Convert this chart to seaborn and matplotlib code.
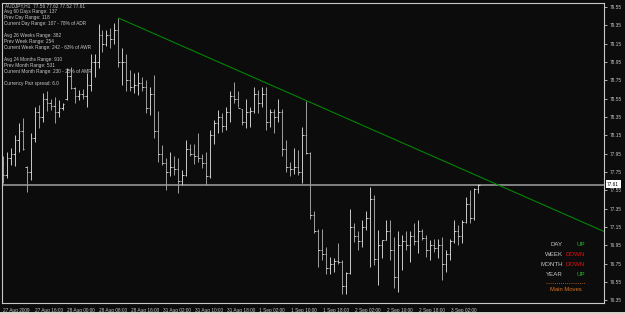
import matplotlib
matplotlib.use("Agg")
import matplotlib.pyplot as plt
import matplotlib.transforms as mtransforms
from matplotlib.patches import Rectangle
from matplotlib.lines import Line2D
import seaborn as sns
import numpy as np

# ---------------- data (AUDJPY, H1) ----------------
highs = [77.92, 77.97, 78.01, 78.15, 78.28, 78.34, 77.81, 78.17, 78.46, 78.48,
         78.61, 78.63, 78.55, 78.57, 78.53, 78.50, 78.88, 78.90, 78.68, 78.64,
         78.66, 78.83, 79.04, 79.04, 79.37, 79.30, 79.30, 79.32, 79.38, 79.43,
         79.10, 79.04, 78.86, 78.83, 78.84, 78.79, 78.75, 78.68, 78.81, 78.41,
         78.04, 77.90, 77.97, 77.92, 77.90, 77.77, 78.10, 78.06, 78.06, 78.17,
         77.95, 77.97, 78.21, 78.32, 78.43, 78.39, 78.46, 78.63, 78.73, 78.63,
         78.44, 78.55, 78.46, 78.68, 78.64, 78.68, 78.68, 78.44, 78.44, 78.55,
         78.44, 78.10, 77.86, 78.01, 77.99, 78.24, 78.52, 77.97, 77.32, 77.13,
         77.13, 76.93, 76.82, 76.81, 76.97, 76.79, 76.66, 77.35, 77.19, 77.10,
         77.22, 77.32, 77.59, 77.50, 77.12, 77.01, 77.22, 77.22, 77.04, 77.10,
         77.06, 77.10, 77.10, 77.19, 77.22, 77.13, 77.06, 77.01, 77.02, 77.02,
         77.04, 76.90, 77.02, 77.22, 77.17, 77.22, 77.48, 77.55, 77.57, 77.62]
lows = [77.63, 77.68, 77.83, 77.81, 77.97, 77.99, 77.53, 77.66, 78.08, 78.23,
        78.30, 78.41, 78.43, 78.28, 78.35, 78.43, 78.53, 78.66, 78.50, 78.53,
        78.55, 78.46, 78.63, 78.79, 78.88, 79.06, 79.12, 79.10, 79.15, 78.90,
        78.70, 78.63, 78.63, 78.61, 78.59, 78.63, 78.39, 78.37, 78.12, 77.86,
        77.83, 77.55, 77.70, 77.72, 77.52, 77.61, 77.70, 77.92, 77.84, 77.86,
        77.79, 77.61, 77.68, 78.06, 78.17, 78.19, 78.21, 78.30, 78.50, 78.46,
        78.26, 78.23, 78.24, 78.39, 78.39, 78.46, 78.21, 78.24, 78.17, 78.30,
        77.92, 77.75, 77.70, 77.73, 77.72, 77.63, 77.95, 77.24, 77.08, 76.71,
        76.79, 76.64, 76.64, 76.66, 76.75, 76.42, 76.42, 76.64, 76.99, 76.90,
        76.93, 77.12, 76.71, 76.73, 76.52, 76.81, 77.01, 76.79, 76.48, 76.44,
        76.68, 76.90, 76.77, 76.95, 76.86, 77.01, 76.82, 76.79, 76.88, 76.81,
        76.57, 76.66, 76.79, 76.97, 76.95, 76.97, 77.19, 77.19, 77.22, 77.52]
opens = [77.85, 77.72, 77.90, 77.95, 78.10, 78.20, 77.80, 77.75, 78.12, 78.40,
         78.35, 78.55, 78.50, 78.47, 78.40, 78.45, 78.55, 78.80, 78.67, 78.58,
         78.60, 78.58, 78.70, 78.95, 78.95, 79.25, 79.15, 79.25, 79.20, 79.30,
         78.95, 78.95, 78.75, 78.68, 78.70, 78.72, 78.68, 78.45, 78.60, 78.20,
         77.95, 77.85, 77.75, 77.80, 77.78, 77.65, 77.72, 78.00, 77.95, 77.92,
         77.90, 77.85, 77.70, 78.15, 78.28, 78.35, 78.25, 78.40, 78.58, 78.55,
         78.44, 78.30, 78.40, 78.42, 78.60, 78.50, 78.60, 78.30, 78.40, 78.35,
         78.40, 78.00, 77.80, 77.78, 77.80, 77.75, 78.15, 77.96, 77.28, 77.10,
         76.90, 76.85, 76.70, 76.75, 76.78, 76.77, 76.50, 76.65, 77.15, 77.05,
         77.00, 77.15, 77.25, 77.45, 76.80, 76.95, 77.01, 77.10, 76.90, 76.60,
         76.95, 77.00, 76.95, 77.05, 77.00, 77.10, 77.03, 76.90, 76.95, 76.92,
         76.95, 76.75, 76.85, 77.00, 77.10, 77.05, 77.20, 77.40, 77.25, 77.56]
closes = [77.72, 77.90, 77.95, 78.10, 78.20, 78.00, 77.75, 78.12, 78.40, 78.35,
          78.55, 78.50, 78.47, 78.40, 78.45, 78.49, 78.80, 78.67, 78.58, 78.60,
          78.58, 78.70, 78.95, 78.95, 79.25, 79.15, 79.25, 79.20, 79.30, 78.95,
          78.95, 78.75, 78.68, 78.70, 78.72, 78.68, 78.45, 78.60, 78.20, 77.95,
          77.85, 77.75, 77.80, 77.78, 77.65, 77.72, 78.00, 77.95, 77.92, 77.90,
          77.85, 77.70, 78.15, 78.28, 78.35, 78.25, 78.40, 78.58, 78.55, 78.45,
          78.30, 78.40, 78.42, 78.60, 78.50, 78.60, 78.30, 78.40, 78.35, 78.40,
          78.00, 77.80, 77.78, 77.80, 77.75, 78.15, 77.96, 77.28, 77.10, 76.90,
          76.85, 76.70, 76.75, 76.78, 76.77, 76.50, 76.65, 77.15, 77.05, 77.00,
          77.15, 77.25, 77.45, 76.80, 76.95, 77.01, 77.10, 76.90, 76.60, 76.95,
          77.00, 76.95, 77.05, 77.00, 77.10, 77.03, 76.90, 76.95, 76.92, 76.95,
          76.75, 76.85, 77.00, 77.10, 77.05, 77.20, 77.40, 77.25, 77.56, 77.61]

time_labels = ["27 Aug 2009", "27 Aug 16:00", "28 Aug 00:00", "28 Aug 08:00",
               "28 Aug 16:00", "31 Aug 02:00", "31 Aug 10:00", "31 Aug 18:00",
               "1 Sep 02:00", "1 Sep 10:00", "1 Sep 18:00", "2 Sep 02:00",
               "2 Sep 10:00", "2 Sep 18:00", "3 Sep 02:00"]
time_label_bars = [0, 8, 16, 24, 32, 40, 48, 56, 64, 72, 80, 88, 96, 104, 112]

price_ticks = [79.55, 79.35, 79.15, 78.95, 78.75, 78.55, 78.35, 78.15, 77.95,
               77.75, 77.55, 77.35, 77.15, 76.95, 76.75, 76.55, 76.35]

trend_bars = [29, 151]
trend_prices = [79.43, 77.09]
bid_price = 77.61

header = "AUDJPY,H1  77.56 77.62 77.52 77.61"
info_lines = ["Avg 60 Days Range: 137", "Prev Day Range: 118",
              "Current Day Range: 107 - 78% of ADR",
              "Avg 26 Weeks Range: 382", "Prev Week Range: 254",
              "Current Week Range: 242 - 63% of AWR",
              "Avg 24 Months Range: 910", "Prev Month Range: 531",
              "Current Month Range: 230 - 25% of AMR",
              "Currency Pair spread: 6.0"]
move_periods = ["DAY", "WEEK", "MONTH", "YEAR"]
move_dirs = ["UP", "DOWN", "DOWN", "UP"]
moves_title = "Main Moves"

# ---------------- style ----------------
BG = "#0c0c0c"
FG = "#c8c8c8"
UPC = "#c4c4c4"
DNC = "#9a9a9a"
sns.set_style("dark", rc={"axes.facecolor": BG, "figure.facecolor": BG,
                          "axes.edgecolor": FG, "text.color": FG,
                          "xtick.color": FG, "ytick.color": FG})
plt.rcParams["font.family"] = ["Liberation Sans", "DejaVu Sans"]

W, H = 625, 314
fig = plt.figure(figsize=(W / 100, H / 100), dpi=100)
fig.patch.set_facecolor(BG)
ax = fig.add_axes([2 / W, 1 - 303 / H, 602 / W, 300 / H])
ax.set_facecolor(BG)

x = np.arange(len(highs))
cols = [UPC if c >= o else DNC for o, c in zip(opens, closes)]
ax.vlines(x, lows, highs, colors=cols, lw=0.72)
ax.hlines(opens, x - 0.38, x, colors="#e0e0e0", lw=0.6)
ax.hlines(closes, x, x + 0.38, colors="#e0e0e0", lw=0.6)

ax.axhline(bid_price, color="#8a8a8a", lw=1.3, zorder=1)
sns.lineplot(x=trend_bars, y=trend_prices, ax=ax, color="#008c00", lw=0.75)

ax.set_xlim(-0.15, 150.5)
ax.set_ylim(76.319, 79.594)
ax.set_xlabel("")
ax.set_ylabel("")
ax.grid(False)
for s in ax.spines.values():
    s.set_color(FG)
    s.set_linewidth(0.8)

FS = 3.4
ax.yaxis.tick_right()
ax.set_yticks(price_ticks)
ax.set_yticklabels(["%.2f" % v for v in price_ticks])
ax.tick_params(axis="y", direction="out", length=2, width=0.6, colors=FG,
               labelsize=FS, pad=2)
ax.set_xticks(time_label_bars)
ax.set_xticklabels(time_labels, ha="left")
ax.tick_params(axis="x", direction="out", length=2, width=0.6, colors=FG,
               labelsize=FS, pad=1.5)
off = mtransforms.ScaledTranslation(0.5 / 100, 0, fig.dpi_scale_trans)
for lab in ax.get_xticklabels():
    lab.set_transform(lab.get_transform() + off)

# current price box
fig.patches.append(Rectangle((606 / W, 1 - 188 / H), 15 / W, 8 / H,
                             transform=fig.transFigure, facecolor="white",
                             edgecolor="none", zorder=5))
fig.text(607 / W, 1 - 184 / H, "%.2f" % bid_price, color="black", fontsize=FS,
         va="center", ha="left", zorder=6)

# info block
fig.text(5 / W, 1 - 5.7 / H, header, color=FG, fontsize=FS, va="center")
info_y = [11, 17, 23.3, 35, 41.3, 47.3, 59.3, 65.7, 71.3, 83.7]
for t, yy in zip(info_lines, info_y):
    fig.text(4 / W, 1 - yy / H, t, color=FG, fontsize=FS, va="center")

# main moves panel
row_y = [245, 255, 264.7, 275]
for p, d, yy in zip(move_periods, move_dirs, row_y):
    fig.text(563 / W, 1 - yy / H, p, color=FG, fontsize=4.4, ha="right",
             va="center")
    fig.text(585 / W, 1 - yy / H, d, fontsize=4.4, ha="right", va="center",
             color="#1fbf1f" if d == "UP" else "#e01010")
fig.lines.append(Line2D([546 / W, 585 / W], [1 - 283.3 / H, 1 - 283.3 / H],
                        transform=fig.transFigure, color="#d2691e", lw=0.6,
                        linestyle=(0, (1, 1.5))))
fig.text(566 / W, 1 - 289.5 / H, moves_title, color="#e07020", fontsize=4.2,
         ha="center", va="center")

# window edge strip at the bottom
fig.patches.append(Rectangle((0, 0), 1, 2.5 / H, transform=fig.transFigure,
                             facecolor="#d4d0c8", edgecolor="none"))

fig.savefig("out.png", dpi=100, facecolor=BG)
